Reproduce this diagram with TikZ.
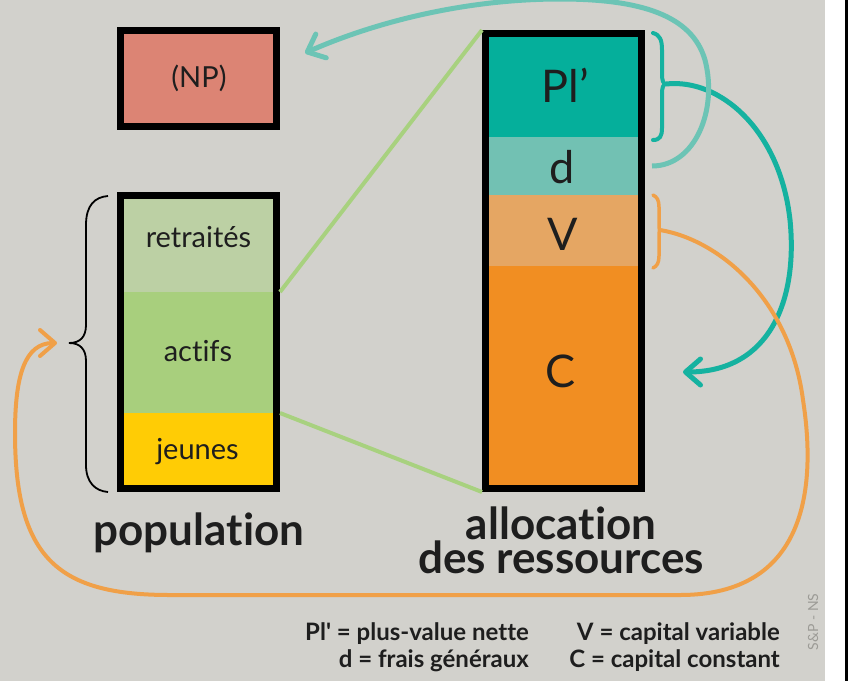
\documentclass[tikz,border=0pt]{standalone}
\usepackage{fontspec}
\setmainfont{Lato}[Ligatures={TeX,NoCommon}]
\usetikzlibrary{arrows.meta}
\definecolor{bg}{HTML}{D2D1CC}
\definecolor{npc}{HTML}{DC8474}
\definecolor{retc}{HTML}{BCD0A4}
\definecolor{actc}{HTML}{A8CF7D}
\definecolor{jeuc}{HTML}{FFCC05}
\definecolor{plc}{HTML}{05AF9B}
\definecolor{dc}{HTML}{72C1B3}
\definecolor{vc}{HTML}{E5A663}
\definecolor{cc}{HTML}{F18E22}
\definecolor{greenln}{HTML}{A8D17F}
\definecolor{tealln}{HTML}{15B2A0}
\definecolor{ltealln}{HTML}{6CC4B5}
\definecolor{orangeln}{HTML}{F0A048}
\definecolor{txt}{HTML}{1E1E1E}
\definecolor{wm}{HTML}{9C9B96}
\newcommand{\allocstack}{\vbox{\offinterlineskip\halign{\hfil##\hfil\cr allocation\cr\noalign{\vskip0pt}des ressources\cr}}}
\tikzset{
  seg/.style={inner sep=0pt, outer sep=0pt, minimum width=156pt, draw=none},
  outline/.style={draw=black, line width=7pt, inner sep=0pt, minimum width=156pt},
  boxlabel/.style={anchor=base, font=\fontsize{29}{31}\selectfont, text=txt, inner sep=0pt},
  biglabel/.style={anchor=base, font=\fontsize{45}{47}\selectfont, text=txt, inner sep=0pt},
  title/.style={anchor=base, font=\fontsize{44}{46}\selectfont\bfseries, text=txt, inner sep=0pt},
  legend/.style={anchor=base east, font=\fontsize{24}{26}\selectfont\bfseries, text=txt, inner sep=0pt},
  barb/.style={-{Straight Barb[length=15pt,width=26pt,round]}},
}
\begin{document}
\begin{tikzpicture}[x=1pt,y=-1pt]
\useasboundingbox (0,0) rectangle (861,681);
\fill[bg] (0,0) rectangle (825,681);
\fill[white] (825,0) rectangle (861,681);
\draw[black, line width=2.5pt] (846.5,0) -- (846.5,681);

% NP box
\node[outline, fill=npc, minimum height=96pt] (np) at (198.5,78.5) {};
\node[boxlabel] (nplabel) at (199,87) {(NP)};

% population
\node[seg, fill=retc, minimum height=96.5pt] (ret) at (198.5,243.75) {};
\node[seg, fill=actc, minimum height=121pt] (act) at (198.5,352.5) {};
\node[seg, fill=jeuc, minimum height=75.5pt] (jeu) at (198.5,450.75) {};
\node[outline, minimum height=293pt] (popbox) at (198.5,342) {};
\node[boxlabel] (retlabel) at (198.5,247) {retraités};
\node[boxlabel] (actlabel) at (198,361) {actifs};
\node[boxlabel] (jeulabel) at (197.5,459) {jeunes};

% allocation
\node[seg, fill=plc, minimum height=103.5pt] (pl) at (563.5,85.25) {};
\node[seg, fill=dc, minimum height=58pt] (dd) at (563.5,166) {};
\node[seg, fill=vc, minimum height=71pt] (vv) at (563.5,230.5) {};
\node[seg, fill=cc, minimum height=222.5pt] (ccc) at (563.5,377.25) {};
\node[outline, minimum height=455pt] (allocbox) at (563.5,261) {};
\node[biglabel] (pllabel) at (565,102) {Pl’};
\node[biglabel] (dlabel) at (562,183) {d};
\node[biglabel] (vlabel) at (562.5,250) {V};
\node[biglabel] (clabel) at (561,387) {C};

% green connectors
\draw[greenln, line width=4pt] (popbox.east |- ret.south) -- (allocbox.north west);
\draw[greenln, line width=4pt] (popbox.east |- jeu.north) -- (allocbox.south west);

% titles
\node[title] (poptitle) at (199,545) {population};
\node[title] (alloctitle) at (561,573) {\allocstack};

% legend
\node[legend] (leg1) at (529,640) {Pl\textquotesingle{} = plus-value nette};
\node[legend] (leg2) at (529,667) {d = frais généraux};
\node[legend] (leg3) at (780,640) {V = capital variable};
\node[legend] (leg4) at (780,667) {C = capital constant};

% watermark
\node[rotate=90, font=\fontsize{14}{15}\selectfont, text=wm, inner sep=0pt] (wmark) at (813,622) {S\&P - NS};

% key coordinates
\coordinate (pltip) at (666,84);
\coordinate (vtip) at (660,230);
\coordinate (dstart) at (652,166);
\coordinate (ctarget) at (683,372);
\coordinate (nptarget) at (305,53);
\coordinate (poptarget) at (57,343);

% left brace
\draw[black, line width=1.8pt] (108,196) .. controls (95,197) and (86,205) .. (86,225) -- (86,325) .. controls (86,337) and (80,343) .. (69,343) .. controls (80,343) and (86,349) .. (86,361) -- (86,465) .. controls (86,482) and (95,491) .. (108,492);

% teal brace
\draw[tealln, line width=4pt, line cap=round] (653,33) .. controls (660,35) and (662,40) .. (662,50) -- (662,74) .. controls (662,80) and (663,84) .. (pltip) .. controls (663,84) and (662,88) .. (662,94) -- (662,128) .. controls (662,136) and (660,140) .. (653,140);

% orange brace
\draw[orangeln, line width=3.5pt, line cap=round] (653,195) .. controls (657,197) and (659,200) .. (659,207) -- (659,222) .. controls (659,227) and (659,230) .. (vtip) .. controls (659,230) and (659,234) .. (659,239) -- (659,256) .. controls (659,263) and (657,266) .. (653,268);

% teal arrow Pl' -> C
\draw[tealln, line width=5pt, barb] (pltip) .. controls (720,78) and (780,130) .. (790,220) .. controls (798,300) and (770,372) .. (ctarget);

% light teal arrow d -> NP
\draw[ltealln, line width=5pt, barb] (dstart) .. controls (695,166) and (718,110) .. (705,60) .. controls (692,15) and (640,-1) .. (560,-1) .. controls (470,-1) and (380,20) .. (nptarget);

% orange arrow V -> population
\draw[orangeln, line width=4pt, barb] (vtip) .. controls (720,240) and (790,300) .. (803,400) .. controls (817,490) and (805,595) .. (680,595) -- (170,595) .. controls (60,595) and (15,560) .. (15,433) .. controls (15,375) and (25,343) .. (poptarget);
\end{tikzpicture}
\end{document}
